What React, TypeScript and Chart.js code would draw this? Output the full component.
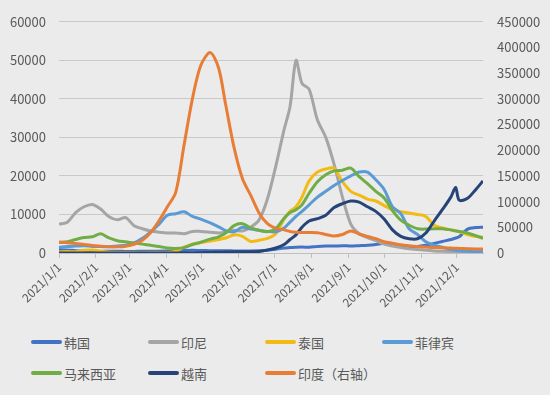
import React, { useEffect, useRef } from "react";
import { Chart, registerables } from "chart.js";

Chart.register(...registerables);

// Day index from 2021/1/1
const days = [0, 7, 14, 21, 28, 35, 42, 49, 56, 63, 70, 77, 84, 91, 98, 105, 112, 119,
  127, 134, 140, 147, 154, 161, 168, 175, 182, 189,
  194, 199, 204,
  210, 217, 224, 231, 238, 245, 252, 259, 266, 273, 280, 287, 294, 301, 308, 315, 322, 329,
  333, 336, 343, 350, 356];

const monthStartDays = [0, 31, 59, 90, 120, 151, 181, 212, 243, 273, 304, 334];
const monthLabels = ["2021/1/1", "2021/2/1", "2021/3/1", "2021/4/1", "2021/5/1", "2021/6/1",
  "2021/7/1", "2021/8/1", "2021/9/1", "2021/10/1", "2021/11/1", "2021/12/1"];

const leftTicks = [0, 10000, 20000, 30000, 40000, 50000, 60000];
const rightTicks = [0, 50000, 100000, 150000, 200000, 250000, 300000, 350000, 400000, 450000];

const seriesNames = ["韩国", "印尼", "泰国", "菲律宾", "马来西亚", "越南", "印度（右轴）"];
const seriesColors = ["#4472c4", "#a5a5a5", "#f2bb14", "#5b9bd5", "#70ad47", "#264478", "#e87d36"];

const korea = [900, 800, 600, 450, 400, 400, 450, 450, 420, 420, 450, 450, 450, 500, 600, 650, 700, 650,
  600, 600, 600, 550, 550, 550, 600, 700, 1000, 1300,
  1400, 1500, 1550,
  1500, 1700, 1800, 1800, 1900, 1800, 1900, 2000, 2200, 2500, 2100, 1800, 1500, 1700, 2000, 2500, 3000, 3500,
  3900, 4200, 6200, 6600, 6700];

const indonesia = [7500, 8000, 10500, 12000, 12600, 11400, 9400, 8600, 9200, 7100, 6300, 5700, 5400, 5200, 5200, 5000, 5600, 5600,
  5400, 5200, 5400, 5900, 5700, 6700, 8600, 14000, 22500, 32000,
  38000, 50000, 44000,
  42500, 34500, 30000, 23000, 14500, 7500, 5000, 4000, 3200, 2300, 1800, 1400, 1100, 900, 700, 550, 450, 400,
  380, 350, 300, 300, 300];

const thailand = [250, 400, 300, 700, 800, 500, 200, 150, 100, 100, 80, 100, 100, 100, 500, 1500, 2300, 2700,
  3100, 3500, 3900, 4700, 4300, 3000, 3300, 3800, 5000, 8800,
  10800, 12000, 14500,
  18700, 21000, 21800, 22000, 18500, 16000, 15000, 14000, 13500, 12300, 11200, 10700, 10400, 10000, 9500, 7200, 6500, 6000,
  5800, 5500, 4800, 4300, 4100];

const philippines = [1500, 1700, 1800, 1900, 1700, 1700, 1600, 1800, 2000, 2600, 3800, 5500, 7500, 9800, 10200, 10700, 9500, 8800,
  7800, 6800, 5800, 5500, 6700, 6200, 5900, 5600, 5500, 6500,
  8000, 9500, 10800,
  12500, 14500, 16000, 17500, 18800, 20000, 21000, 21000, 19000, 16500, 12000, 10200, 6300, 4800, 2900, 2000, 1500, 900,
  700, 600, 450, 350, 300];

const malaysia = [2700, 2900, 3500, 4000, 4200, 5000, 3900, 3200, 2900, 2600, 2300, 2000, 1700, 1300, 1200, 1400, 2200, 2800,
  3600, 4200, 5200, 7100, 7600, 6500, 5900, 5500, 6300, 9000,
  10500, 11200, 12500,
  15500, 18500, 20300, 21300, 21500, 22000, 19800, 18000, 16000, 14300, 11000, 8500, 7200, 6300, 6200, 6300, 6300, 6000,
  5700, 5600, 5200, 4500, 3800];

const vietnam = [10, 10, 20, 20, 20, 30, 20, 20, 10, 10, 10, 10, 10, 10, 10, 10, 20, 50,
  150, 200, 250, 300, 350, 300, 400, 800, 1300, 2200,
  3500, 4700, 6700,
  8300, 8900, 9800, 11800, 12800, 13500, 13200, 12000, 10800, 8800, 6000, 4300, 3700, 3700, 5200, 8300, 11300, 14500,
  17000, 13700, 14200, 16500, 18700];

const india = [21500, 20000, 18500, 16500, 14700, 13300, 12000, 12000, 13300, 17000, 25000, 40000, 63000, 90000, 118000, 210000, 300000, 365000,
  390000, 360000, 288000, 205000, 145000, 112000, 78000, 57000, 48000, 45000,
  42000, 40500, 40000,
  40000, 39500, 36000, 33000, 36000, 43000, 37000, 32000, 28000, 22000, 19000, 16000, 14000, 12500, 11500, 10500, 10000, 9500,
  9200, 9000, 8500, 8000, 8000];

const seriesValues = [korea, indonesia, thailand, philippines, malaysia, vietnam, india];
const seriesAxis = ["y", "y", "y", "y", "y", "y", "y1"];

const FONT = "'Noto Sans CJK SC', 'Noto Sans', sans-serif";
const TEXT = "#595959";
const BG = "#ebebeb";

export default function App() {
  const ref = useRef<HTMLCanvasElement | null>(null);

  useEffect(() => {
    document.body.style.margin = "0";
    const canvas = ref.current;
    if (!canvas) return;
    const n = seriesValues.length;
    const chart = new Chart(canvas, {
      type: "line",
      data: {
        datasets: seriesValues.map((vals, i) => ({
          label: seriesNames[i],
          data: vals.map((v, j) => ({ x: days[j], y: v })),
          borderColor: seriesColors[i],
          backgroundColor: seriesColors[i],
          borderWidth: 3,
          pointRadius: 0,
          tension: 0.3,
          fill: false,
          yAxisID: seriesAxis[i],
          order: n - 1 - i,
        })),
      },
      options: {
        animation: false,
        responsive: false,
        devicePixelRatio: 1,
        layout: { padding: { top: 17, left: 0, right: 0, bottom: 0 } },
        plugins: { legend: { display: false }, tooltip: { enabled: false } },
        scales: {
          x: {
            type: "linear",
            min: 0,
            max: 356,
            afterBuildTicks: (s: any) => {
              s.ticks = monthStartDays.map((v) => ({ value: v }));
            },
            afterFit: (s: any) => {
              s.height = 67;
            },
            ticks: {
              autoSkip: false,
              minRotation: 45,
              maxRotation: 45,
              padding: 2,
              color: TEXT,
              font: { family: FONT, size: 12 },
              callback: (v: any) => {
                const k = monthStartDays.indexOf(Number(v));
                return k >= 0 ? monthLabels[k] : "";
              },
            },
            grid: {
              display: true,
              drawOnChartArea: false,
              drawTicks: true,
              tickLength: 5,
              color: "#bfbfbf",
            },
            border: { display: true, color: "#bfbfbf", width: 1 },
          },
          y: {
            position: "left",
            min: 0,
            max: 60000,
            afterBuildTicks: (s: any) => {
              s.ticks = leftTicks.map((v) => ({ value: v }));
            },
            afterFit: (s: any) => {
              s.width = 59;
            },
            ticks: {
              padding: 13,
              color: TEXT,
              font: { family: FONT, size: 13 },
              callback: (v: any) => String(v),
            },
            grid: { color: "#c9c9c9", lineWidth: 1, drawTicks: false },
            border: { display: false },
          },
          y1: {
            position: "right",
            min: 0,
            max: 450000,
            afterBuildTicks: (s: any) => {
              s.ticks = rightTicks.map((v) => ({ value: v }));
            },
            afterFit: (s: any) => {
              s.width = 67;
            },
            ticks: {
              padding: 14,
              color: TEXT,
              font: { family: FONT, size: 13 },
              callback: (v: any) => String(v),
            },
            grid: { display: false, drawTicks: false },
            border: { display: false },
          },
        },
      },
    });
    return () => chart.destroy();
  }, []);

  const colX = [31, 148, 265, 382];
  const rowY = [342, 373];

  return (
    <div
      style={{
        position: "absolute",
        left: 0,
        top: 0,
        width: 550,
        height: 395,
        background: BG,
        overflow: "hidden",
        fontFamily: FONT,
      }}
    >
      <canvas
        ref={ref}
        width={550}
        height={320}
        style={{ position: "absolute", left: 0, top: 0, width: 550, height: 320 }}
      />
      {seriesNames.map((name, i) => (
        <div
          key={name}
          style={{
            position: "absolute",
            left: colX[i % 4],
            top: rowY[Math.floor(i / 4)] - 10,
            height: 20,
            display: "flex",
            alignItems: "center",
            whiteSpace: "nowrap",
            fontSize: 13,
            color: TEXT,
          }}
        >
          <span
            style={{
              display: "inline-block",
              width: 31,
              height: 4,
              borderRadius: 2,
              background: seriesColors[i],
              marginRight: 2,
            }}
          />
          <span>{name}</span>
        </div>
      ))}
    </div>
  );
}
